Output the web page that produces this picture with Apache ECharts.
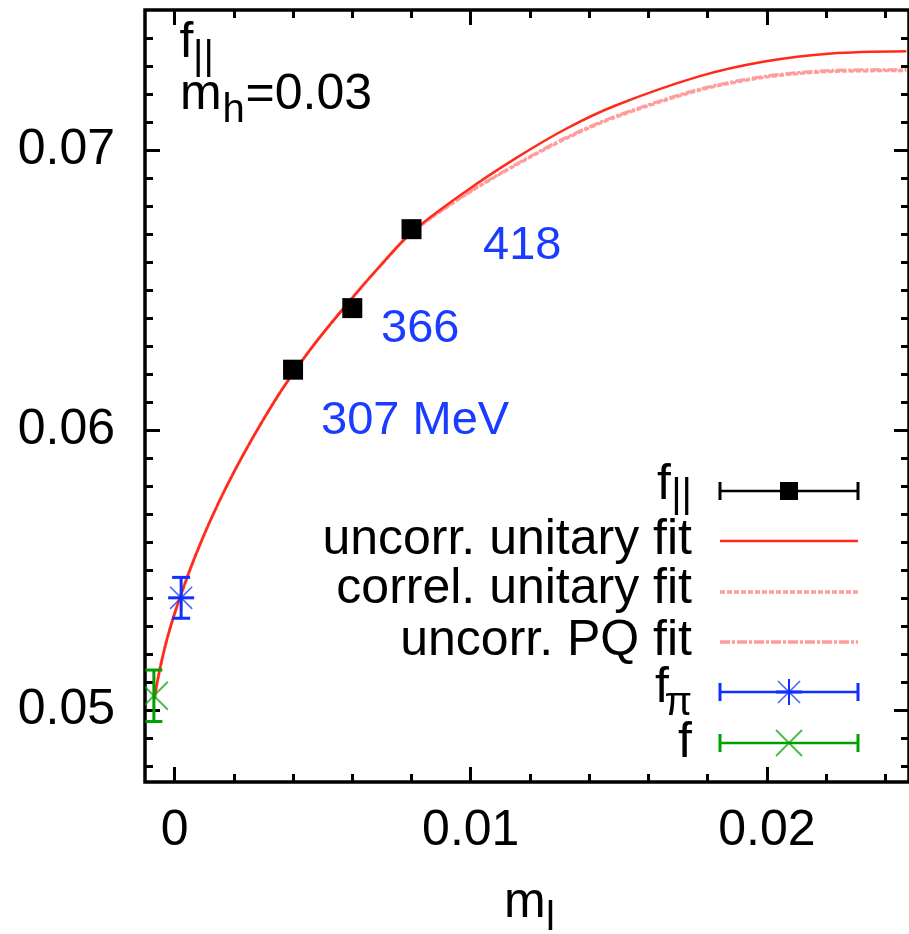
<!DOCTYPE html>
<html><head><meta charset="utf-8">
<script src="https://cdn.jsdelivr.net/npm/echarts@6/dist/echarts.min.js"></script>
<style>html,body{margin:0;padding:0;background:#fff}#c{width:909px;height:934px}</style>
</head><body><div id="c"></div>
<script>
const FONT = '"Liberation Sans", Arial, Helvetica, sans-serif';

// ---- data ----
const fitX = [-0.00068, -0.0006, -0.00045, -0.00025, 0.0, 0.00045, 0.00084, 0.00124, 0.00174, 0.0023, 0.00297, 0.00365, 0.00466, 0.00578, 0.0069, 0.00802, 0.00982, 0.0115, 0.01319, 0.01487, 0.01768, 0.01992, 0.02217, 0.02471];
const fitUncorrUnitary = [0.0504, 0.05092, 0.0517, 0.05256, 0.05345, 0.05482, 0.05587, 0.05685, 0.05796, 0.05909, 0.06033, 0.06149, 0.06299, 0.06445, 0.06582, 0.06708, 0.06852, 0.0697, 0.07075, 0.07159, 0.07263, 0.07317, 0.07346, 0.07354];
const fitCorrelUnitary = [0.0504, 0.05092, 0.0517, 0.05256, 0.05345, 0.05482, 0.05587, 0.05685, 0.05796, 0.05909, 0.06033, 0.06149, 0.06299, 0.06445, 0.06582, 0.06706, 0.0684, 0.06945, 0.0704, 0.07117, 0.07213, 0.0726, 0.07281, 0.07284];
const fitUncorrPQ = [0.0504, 0.05092, 0.0517, 0.05256, 0.05345, 0.05482, 0.05587, 0.05685, 0.05796, 0.05909, 0.06033, 0.06149, 0.06299, 0.06445, 0.06582, 0.06707, 0.06842, 0.06948, 0.07044, 0.07121, 0.07217, 0.07264, 0.07285, 0.07288];

const fParX = [0.004, 0.006, 0.008];
const fParY = [0.06216, 0.06436, 0.06718];
const fParErr = [0.0002, 0.0002, 0.0002];

const fPiX = [0.00022];
const fPiY = [0.05401];
const fPiErr = [0.00073];

const f0X = [-0.0007];
const f0Y = [0.05051];
const f0Err = [0.00092];

const pionMassLabels = ['307 MeV', '366', '418'];

const xMajorTicks = [0, 0.01, 0.02];
const xMinorTicks = [0, 0.002, 0.004, 0.006, 0.008, 0.01, 0.012, 0.014, 0.016, 0.018, 0.02, 0.022, 0.024];
const yMajorTicks = [0.05, 0.06, 0.07];
const yMinorTicks = [0.048, 0.049, 0.05, 0.051, 0.052, 0.053, 0.054, 0.055, 0.056, 0.057, 0.058, 0.059, 0.06, 0.061, 0.062, 0.063, 0.064, 0.065, 0.066, 0.067, 0.068, 0.069, 0.07, 0.071, 0.072, 0.073, 0.074];

const X_MIN = -0.001, X_MAX = 0.0248;
const Y_MIN = 0.04743, Y_MAX = 0.07501;

// ---- helpers ----
const RED = '#ff2a1a', PALE = '#ff9c9c', BLUE = '#1030ff', GREEN = '#00a000';

function xAx(pos, ticks, len, labels) {
  return {
    type: 'value', position: pos, min: X_MIN, max: X_MAX, gridIndex: 0,
    axisLine: { show: false, onZero: false }, splitLine: { show: false },
    axisTick: { show: true, inside: true, length: len, lineStyle: { color: '#000', width: 3 }, customValues: ticks },
    axisLabel: labels ? {
      show: true, customValues: labels, fontSize: 50, fontFamily: FONT, color: '#000', margin: 24,
      formatter: v => (Math.abs(v) < 1e-12 ? '0' : v.toFixed(2))
    } : { show: false }
  };
}
function yAx(pos, ticks, len, labels) {
  return {
    type: 'value', position: pos, min: Y_MIN, max: Y_MAX, gridIndex: 0,
    axisLine: { show: false, onZero: false }, splitLine: { show: false },
    axisTick: { show: true, inside: true, length: len, lineStyle: { color: '#000', width: 3 }, customValues: ticks },
    axisLabel: labels ? {
      show: true, customValues: labels, fontSize: 50, fontFamily: FONT, color: '#000', margin: 30,
      formatter: v => v.toFixed(2)
    } : { show: false }
  };
}
function zip3(a, b, c) { return a.map((v, i) => [v, b[i], c[i]]); }

function asteriskShapes(cx, cy, h, color) {
  const d = h * 0.85;
  return [
    { type: 'line', shape: { x1: cx - h, y1: cy, x2: cx + h, y2: cy }, style: { stroke: color, lineWidth: 3 } },
    { type: 'line', shape: { x1: cx, y1: cy - h, x2: cx, y2: cy + h }, style: { stroke: color, lineWidth: 2 } },
    { type: 'line', shape: { x1: cx - d, y1: cy - d, x2: cx + d, y2: cy + d }, style: { stroke: color, lineWidth: 1.6, opacity: 0.75 } },
    { type: 'line', shape: { x1: cx - d, y1: cy + d, x2: cx + d, y2: cy - d }, style: { stroke: color, lineWidth: 1.6, opacity: 0.75 } }
  ];
}
function crossShapes(cx, cy, h, color) {
  return [
    { type: 'line', shape: { x1: cx - h, y1: cy - h, x2: cx + h, y2: cy + h }, style: { stroke: color, lineWidth: 2, opacity: 0.7 } },
    { type: 'line', shape: { x1: cx - h, y1: cy + h, x2: cx + h, y2: cy - h }, style: { stroke: color, lineWidth: 2, opacity: 0.7 } }
  ];
}
function squareShapes(cx, cy, s, color) {
  return [{ type: 'rect', shape: { x: cx - s / 2, y: cy - s / 2, width: s, height: s }, style: { fill: color } }];
}

function errRender(color, capHalf, markerFn, mSize) {
  return function (params, api) {
    const x = api.value(0), y = api.value(1), e = api.value(2);
    const p = api.coord([x, y]);
    const t = api.coord([x, y + e]);
    const b = api.coord([x, y - e]);
    const st = { stroke: color, lineWidth: 3 };
    const children = [
      { type: 'line', shape: { x1: p[0], y1: t[1], x2: p[0], y2: b[1] }, style: st },
      { type: 'line', shape: { x1: p[0] - capHalf, y1: t[1], x2: p[0] + capHalf, y2: t[1] }, style: st },
      { type: 'line', shape: { x1: p[0] - capHalf, y1: b[1], x2: p[0] + capHalf, y2: b[1] }, style: st }
    ].concat(markerFn(p[0], p[1], mSize, color));
    return { type: 'group', children };
  };
}

function txt(text, x, y, size, color, align) {
  return {
    type: 'text', x: x, y: y, z: 100,
    style: {
      text: text, fontSize: size, fontFamily: FONT, fill: color || '#000',
      align: align || 'left', verticalAlign: 'middle',
      textAlign: align || 'left', textVerticalAlign: 'middle'
    }
  };
}
function gline(x1, y1, x2, y2, color, w, dash) {
  const s = { stroke: color, lineWidth: w };
  if (dash) s.lineDash = dash;
  return { type: 'line', z: 100, shape: { x1, y1, x2, y2 }, style: s };
}
function legendErrRow(y, color, markerFn, mSize) {
  const L1 = 720, L2 = 858, M = 789;
  const els = [gline(L1, y, L2, y, color, 2.5), gline(L1, y - 9, L1, y + 9, color, 3), gline(L2, y - 9, L2, y + 9, color, 3)];
  markerFn(M, y, mSize, color).forEach(s => { s.z = 101; els.push(s); });
  return els;
}

const rows = [491, 541, 592, 642, 692, 743];
const graphics = [].concat(
  // title
  [txt('f', 179.5, 43, 50), txt('||', 193, 58, 40),
   txt('m', 180, 95, 50), txt('h', 222.5, 111, 40), txt('=0.03', 245.5, 95, 50)],
  // axis title
  [txt('m', 504, 903, 50), txt('l', 546, 919, 40)],
  // pion mass annotations
  [txt(pionMassLabels[0], 321, 421, 47, '#1a3cff'), txt(pionMassLabels[1], 381, 329, 47, '#1a3cff'), txt(pionMassLabels[2], 483, 246, 47, '#1a3cff')],
  // legend texts
  [txt('f', 671, 485, 50, '#000', 'right'), txt('||', 692, 496, 40, '#000', 'right'),
   txt('uncorr. unitary fit', 692, 540, 50, '#000', 'right'),
   txt('correl. unitary fit', 692, 589, 50, '#000', 'right'),
   txt('uncorr. PQ fit', 692, 641, 50, '#000', 'right'),
   txt('f', 669, 688, 50, '#000', 'right'), txt('π', 692, 704, 40, '#000', 'right'),
   txt('f', 692, 743, 50, '#000', 'right')],
  // legend samples
  legendErrRow(rows[0], '#000', squareShapes, 18),
  [gline(720, rows[1], 858, rows[1], RED, 2.5),
   gline(720, rows[2], 858, rows[2], PALE, 3.5, [5, 2]),
   gline(720, rows[3], 858, rows[3], PALE, 3.5, [10, 2, 3, 2])],
  legendErrRow(rows[4], BLUE, asteriskShapes, 13),
  legendErrRow(rows[5], GREEN, crossShapes, 13)
);

const chart = echarts.init(document.getElementById('c'), null, { renderer: 'canvas' });
chart.setOption({
  animation: false,
  backgroundColor: '#fff',
  grid: { left: 145, top: 10, width: 767, height: 772, show: true, borderColor: '#000', borderWidth: 3.5, backgroundColor: 'transparent', containLabel: false },
  xAxis: [
    xAx('bottom', xMinorTicks, 8, xMajorTicks),
    xAx('bottom', xMajorTicks, 15, null),
    xAx('top', xMinorTicks, 8, null),
    xAx('top', xMajorTicks, 15, null)
  ],
  yAxis: [
    yAx('left', yMinorTicks, 8, yMajorTicks),
    yAx('left', yMajorTicks, 15, null),
    yAx('right', yMinorTicks, 8, null),
    yAx('right', yMajorTicks, 15, null)
  ],
  series: [
    { name: 'correl. unitary fit', type: 'line', data: fitX.map((x, i) => [x, fitCorrelUnitary[i]]), symbol: 'none', smooth: 0.3, lineStyle: { color: PALE, width: 3, type: [5, 2] }, z: 2 },
    { name: 'uncorr. PQ fit', type: 'line', data: fitX.map((x, i) => [x, fitUncorrPQ[i]]), symbol: 'none', smooth: 0.3, lineStyle: { color: PALE, width: 3, type: [10, 2, 3, 2] }, z: 2 },
    { name: 'uncorr. unitary fit', type: 'line', data: fitX.map((x, i) => [x, fitUncorrUnitary[i]]), symbol: 'none', smooth: 0.3, lineStyle: { color: RED, width: 2.5 }, z: 3 },
    { name: 'f_par', type: 'custom', data: zip3(fParX, fParY, fParErr), renderItem: errRender('#000', 6, squareShapes, 20), clip: true, z: 5 },
    { name: 'f_pi', type: 'custom', data: zip3(fPiX, fPiY, fPiErr), renderItem: errRender(BLUE, 9, asteriskShapes, 13), clip: true, z: 5 },
    { name: 'f', type: 'custom', data: zip3(f0X, f0Y, f0Err), renderItem: errRender(GREEN, 8.5, crossShapes, 14), clip: true, z: 5 }
  ],
  graphic: graphics
});
</script></body></html>
